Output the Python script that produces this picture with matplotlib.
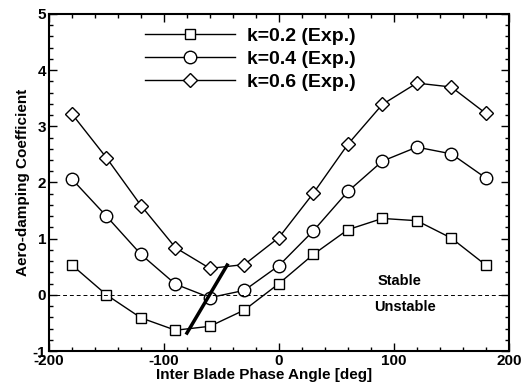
import numpy as np
import matplotlib.pyplot as plt
from matplotlib.ticker import MultipleLocator

plt.rcParams['font.family'] = ['Liberation Sans', 'DejaVu Sans']
plt.rcParams['font.weight'] = 'bold'
plt.rcParams['axes.unicode_minus'] = False

ibpa = [-180, -150, -120, -90, -60, -30, 0, 30, 60, 90, 120, 150, 180]
k02 = [0.53, 0.00, -0.41, -0.63, -0.56, -0.27, 0.20, 0.72, 1.16, 1.36, 1.32, 1.01, 0.53]
k04 = [2.06, 1.40, 0.72, 0.19, -0.05, 0.08, 0.52, 1.14, 1.84, 2.38, 2.63, 2.51, 2.08]
k06 = [3.22, 2.44, 1.59, 0.84, 0.47, 0.54, 1.02, 1.81, 2.68, 3.39, 3.77, 3.70, 3.23]
labels = ['k=0.2 (Exp.)', 'k=0.4 (Exp.)', 'k=0.6 (Exp.)']

trend_x = [-80, -45]
trend_y = [-0.68, 0.53]

fig = plt.figure(figsize=(5.24, 3.91), dpi=100)
ax = fig.add_axes([0.0935, 0.1023, 0.8775, 0.8619])

ax.plot(ibpa, k02, color='black', lw=1.0, marker='s', ms=7, mfc='white', mec='black', mew=1.0, label=labels[0])
ax.plot(ibpa, k04, color='black', lw=1.0, marker='o', ms=9, mfc='white', mec='black', mew=1.0, label=labels[1])
ax.plot(ibpa, k06, color='black', lw=1.0, marker='D', ms=7, mfc='white', mec='black', mew=1.0, label=labels[2])
ax.plot(trend_x, trend_y, color='black', lw=2.5)
ax.axhline(0, color='black', lw=0.7, ls=(0, (4, 3)))

ax.text(105, 0.24, 'Stable', ha='center', va='center', fontsize=10.5, fontweight='bold')
ax.text(110, -0.21, 'Unstable', ha='center', va='center', fontsize=10.5, fontweight='bold')

ax.set_xlim(-200, 200)
ax.set_ylim(-1, 5)
ax.xaxis.set_major_locator(MultipleLocator(100))
ax.xaxis.set_minor_locator(MultipleLocator(20))
ax.yaxis.set_major_locator(MultipleLocator(1))
ax.yaxis.set_minor_locator(MultipleLocator(0.2))
ax.tick_params(which='both', direction='in', top=True, right=True, labelsize=11, width=1.0)
ax.tick_params(which='major', length=6, pad=2)
ax.tick_params(which='minor', length=3)
for s in ax.spines.values():
    s.set_linewidth(1.5)

ax.set_xlabel('Inter Blade Phase Angle [deg]', fontsize=11, fontweight='bold', labelpad=0)
ax.xaxis.set_label_coords(0.467, -0.05)
ax.set_ylabel('Aero-damping Coefficient', fontsize=11, fontweight='bold', labelpad=2)

leg = ax.legend(loc='upper left', bbox_to_anchor=(0.18, 1.0), frameon=False, fontsize=14,
                handlelength=4.6, handletextpad=0.65, labelspacing=0.26, borderpad=0.2)
for t in leg.get_texts():
    t.set_fontweight('bold')

fig.savefig('out.png', dpi=100)
